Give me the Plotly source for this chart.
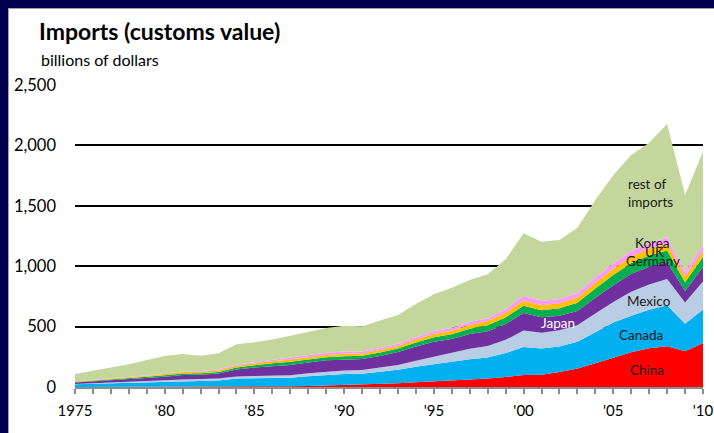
import plotly.graph_objects as go

years = list(range(1975, 2011))

china = [0.2, 0.2, 0.2, 0.3, 0.6, 1.1, 1.9, 2.3, 2.2, 3.1,
         3.9, 4.8, 6.3, 8.5, 12.0, 15.2, 19.0, 25.7, 31.5, 38.8,
         45.5, 51.5, 62.6, 71.2, 81.8, 100.0, 102.3, 125.2, 152.4, 196.7,
         243.5, 287.8, 321.4, 337.8, 296.4, 364.9]
canada = [21.7, 26.2, 29.4, 33.5, 38.1, 41.5, 46.4, 46.5, 52.1, 66.5,
          69.0, 68.3, 71.1, 81.4, 88.0, 91.4, 91.1, 98.6, 111.2, 128.4,
          144.4, 155.9, 168.1, 173.3, 198.7, 230.8, 216.3, 209.1, 221.6, 256.4,
          290.4, 302.4, 317.1, 339.5, 226.2, 277.6]
mexico = [3.1, 3.6, 4.7, 6.1, 8.8, 12.5, 13.8, 15.6, 16.8, 18.0,
          19.1, 17.3, 20.3, 23.3, 27.2, 30.2, 31.1, 35.2, 39.9, 49.5,
          61.7, 74.3, 85.9, 94.6, 109.7, 135.9, 131.3, 134.6, 138.1, 155.9,
          170.1, 198.3, 210.7, 215.9, 176.5, 229.9]
japan = [11.3, 15.5, 18.6, 24.5, 26.2, 30.7, 37.6, 37.7, 41.2, 57.1,
         68.8, 81.9, 84.6, 89.5, 93.6, 89.7, 91.5, 97.4, 107.2, 119.2,
         123.5, 115.2, 121.7, 121.8, 130.9, 146.5, 126.5, 121.4, 118.0, 129.8,
         138.1, 148.2, 145.5, 139.2, 95.8, 120.5]
germany = [5.4, 5.6, 7.2, 9.9, 11.2, 11.7, 11.4, 11.9, 12.7, 17.0,
           20.2, 25.1, 27.1, 26.5, 24.8, 28.2, 26.1, 28.8, 28.6, 31.7,
           36.8, 38.9, 43.1, 49.8, 55.2, 58.5, 59.1, 62.5, 68.0, 77.3,
           84.8, 89.1, 94.4, 97.5, 71.5, 82.4]
uk = [3.8, 4.3, 5.1, 6.5, 8.0, 9.8, 12.8, 13.1, 12.5, 14.5,
      14.9, 15.4, 17.3, 17.9, 18.3, 20.2, 18.4, 20.1, 21.7, 25.1,
      26.9, 28.9, 32.7, 34.8, 39.2, 43.3, 41.4, 40.7, 42.8, 46.4,
      51.0, 53.5, 56.9, 58.6, 47.5, 49.8]
korea = [1.4, 2.5, 3.1, 4.0, 4.4, 4.1, 5.2, 5.6, 7.1, 9.3,
         10.0, 12.7, 16.9, 20.2, 19.7, 18.5, 17.0, 16.7, 17.1, 19.7,
         24.2, 22.7, 23.2, 23.9, 31.2, 40.3, 35.2, 35.6, 37.2, 46.2,
         43.8, 45.8, 47.6, 48.1, 39.2, 48.9]
rest = [61, 77, 92, 103, 127, 146, 144, 126, 134, 168,
        164, 167, 181, 191, 204, 213, 208, 227, 239, 275,
        304, 335, 349, 364, 410, 517, 491, 488, 541, 639,
        733, 795, 828, 940, 636, 774]

series = [
    ("China", china, "#FF0000"),
    ("Canada", canada, "#00B0F0"),
    ("Mexico", mexico, "#B9CDE5"),
    ("Japan", japan, "#7030A0"),
    ("Germany", germany, "#00B050"),
    ("UK", uk, "#FFC000"),
    ("Korea", korea, "#FF99FF"),
    ("rest of imports", rest, "#C3D69B"),
]

y_ticks = [0, 500, 1000, 1500, 2000, 2500]
x_labels = {1975: "1975", 1980: "'80", 1985: "'85", 1990: "'90",
            1995: "'95", 2000: "'00", 2005: "'05", 2010: "'10"}

FONT = "Lato, 'Open Sans', sans-serif"

fig = go.Figure()
for name, vals, col in series:
    fig.add_trace(go.Scatter(
        x=years, y=vals, name=name, mode="lines",
        stackgroup="one", line=dict(width=0, color=col),
        fillcolor=col, hoverinfo="x+y+name"))

labels = [
    ("rest of<br>imports", 2007.05, 1606, "#1a1a1a"),
    ("Korea", 2007.2, 1192, "#1a1a1a"),
    ("UK", 2007.3, 1118, "#1a1a1a"),
    ("Germany", 2007.2, 1043, "#1a1a1a"),
    ("Mexico", 2007.0, 712, "#1a1a1a"),
    ("Canada", 2006.55, 430, "#1a1a1a"),
    ("China", 2006.9, 141, "#1a1a1a"),
    ("Japan", 2001.9, 530, "#FFFFFF"),
]
annotations = []
for txt, xv, yv, c in labels:
    annotations.append(dict(x=xv, y=yv, xref="x", yref="y", text=txt,
                            showarrow=False, font=dict(family=FONT, size=13.5, color=c),
                            xanchor="center", yanchor="middle", align="left"))

# layout geometry in pixels
W, H = 714, 433
L, R, T, B = 75, 11, 85, 46
pw, ph = W - L - R, H - T - B

def px_x(p):
    return (p - L) / pw

def px_y(p):
    return (H - B - p) / ph

annotations.append(dict(x=px_x(37), y=px_y(31), xref="paper", yref="paper",
                        text="<b>Imports (customs value)</b>", showarrow=False,
                        xanchor="left", yanchor="middle",
                        font=dict(family=FONT, size=23, color="#000000")))
annotations.append(dict(x=px_x(39), y=px_y(59), xref="paper", yref="paper",
                        text="billions of dollars", showarrow=False,
                        xanchor="left", yanchor="middle",
                        font=dict(family=FONT, size=16, color="#000000")))

navy = "#00004F"
shapes = [
    dict(type="rect", xref="paper", yref="paper", x0=px_x(0), x1=px_x(W),
         y0=px_y(8), y1=px_y(0), fillcolor=navy, line=dict(width=0), layer="above"),
    dict(type="rect", xref="paper", yref="paper", x0=px_x(0), x1=px_x(8),
         y0=px_y(H), y1=px_y(0), fillcolor=navy, line=dict(width=0), layer="above"),
    dict(type="line", xref="paper", yref="paper", x0=px_x(8), x1=px_x(W),
         y0=px_y(8.5), y1=px_y(8.5), line=dict(color="#A0A0A0", width=1), layer="above"),
    dict(type="line", xref="paper", yref="paper", x0=px_x(8.5), x1=px_x(8.5),
         y0=px_y(H), y1=px_y(8), line=dict(color="#A0A0A0", width=1), layer="above"),
]

fig.update_layout(
    width=W, height=H, autosize=False,
    margin=dict(l=L, r=R, t=T, b=B, pad=0, autoexpand=False),
    paper_bgcolor="#FFFFFF", plot_bgcolor="rgba(0,0,0,0)",
    showlegend=False,
    font=dict(family=FONT, color="#000000"),
    annotations=annotations,
    shapes=shapes,
    xaxis=dict(range=[1975, 2010], tickmode="array", tickvals=years,
               ticktext=[x_labels.get(y, "") for y in years],
               showgrid=False, zeroline=False, automargin=False,
               showline=True, linecolor="#8C8C8C", linewidth=2,
               ticks="outside", ticklen=5, tickwidth=1.5, tickcolor="#8C8C8C",
               tickfont=dict(family=FONT, size=15, color="#000000"),
               ticklabelstandoff=4),
    yaxis=dict(range=[0, 2500], tickmode="array", tickvals=y_ticks,
               ticktext=[f"{v:,}" for v in y_ticks],
               showgrid=True, gridcolor="#000000", gridwidth=1.5,
               zeroline=False, showline=False, ticks="", automargin=False,
               tickfont=dict(family=FONT, size=16.5, color="#000000"),
               ticklabelstandoff=18),
)

fig.write_html(
    "out.html",
    config={"displayModeBar": False, "responsive": False},
    post_script="var s=document.createElement('style');"
                "s.textContent='html,body{margin:0!important;padding:0!important;overflow:hidden!important;background:#fff;}';"
                "document.head.appendChild(s);",
)
